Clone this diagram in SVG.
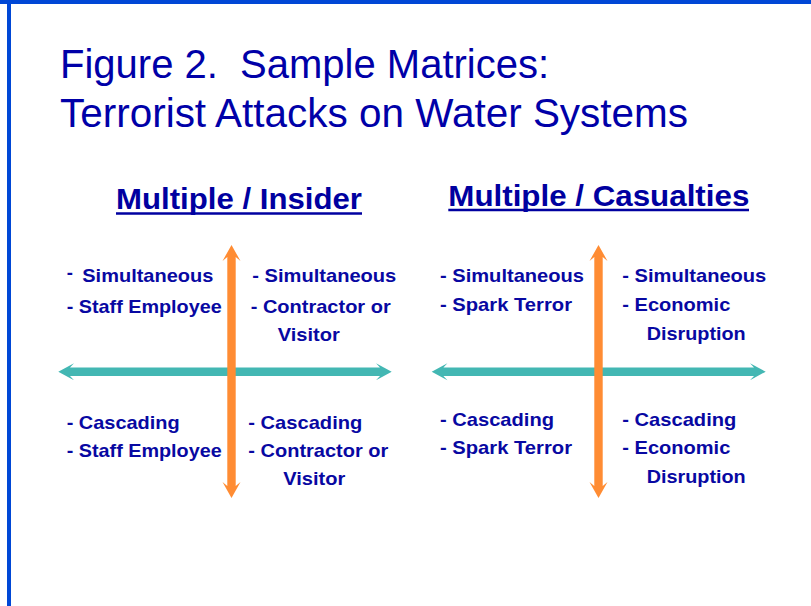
<svg xmlns="http://www.w3.org/2000/svg" width="811" height="606" viewBox="0 0 811 606">
<style>
.title{font-family:"Liberation Sans",Arial,sans-serif;font-size:40px;fill:#0000A8;white-space:pre}
.head{font-family:"Liberation Sans",Arial,sans-serif;font-size:30px;font-weight:bold;fill:#0000A0}
.ul{stroke:#0000A0;stroke-width:2.5}
.t{font-family:"Liberation Sans",Arial,sans-serif;font-size:18.5px;font-weight:bold;fill:#0808A2}
.h{fill:#43B7B3}
.v{fill:#FF8C33}
.frame{fill:#0047D6}
</style>
<rect class="frame" x="0" y="0" width="811" height="4"/>
<rect class="frame" x="7" y="0" width="4" height="606"/>
<g id="title">
<text class="title" x="60" y="78" xml:space="preserve">Figure 2.  Sample Matrices:</text>
<text class="title" x="60" y="127" textLength="628" lengthAdjust="spacingAndGlyphs">Terrorist Attacks on Water Systems</text>
</g>
<g id="header-insider">
<text class="head" x="116" y="209.3" textLength="246" lengthAdjust="spacingAndGlyphs">Multiple / Insider</text>
<line class="ul" x1="116" y1="213.5" x2="362" y2="213.5"/>
</g>
<g id="header-casualties">
<text class="head" x="448.3" y="206" textLength="301" lengthAdjust="spacingAndGlyphs">Multiple / Casualties</text>
<line class="ul" x1="448.3" y1="210" x2="749" y2="210"/>
</g>
<g id="connectors">
<polygon class="h" points="58.3,371.7 74,363.2 70,367.4 380,367.4 376,363.2 391.7,371.7 376,380.2 380,376 70,376 74,380.2"/>
<polygon class="v" points="231.5,245 240.5,261 235.7,257 235.7,486 240.5,482 231.5,498 222.5,482 227.3,486 227.3,257 222.5,261"/>
<polygon class="h" points="431.7,371.7 447.4,363.2 443.4,367.4 754,367.4 750,363.2 765.7,371.7 750,380.2 754,376 443.4,376 447.4,380.2"/>
<polygon class="v" points="598.5,245 607.5,261 602.7,257 602.7,486 607.5,482 598.5,498 589.5,482 594.3,486 594.3,257 589.5,261"/>
</g>
<g id="insider-top-left">
<text class="t" x="66.7" y="279">-</text>
<text class="t" x="82.3" y="281.7" textLength="131" lengthAdjust="spacingAndGlyphs">Simultaneous</text>
<text class="t" x="66.7" y="312.7" textLength="155" lengthAdjust="spacingAndGlyphs">- Staff Employee</text>
</g>
<g id="insider-top-right">
<text class="t" x="252.3" y="281.7" textLength="144" lengthAdjust="spacingAndGlyphs">- Simultaneous</text>
<text class="t" x="250.7" y="312.7" textLength="140" lengthAdjust="spacingAndGlyphs">- Contractor or</text>
<text class="t" x="277.7" y="341" textLength="62" lengthAdjust="spacingAndGlyphs">Visitor</text>
</g>
<g id="insider-bottom-left">
<text class="t" x="66.7" y="429.3" textLength="113" lengthAdjust="spacingAndGlyphs">- Cascading</text>
<text class="t" x="66.7" y="456.7" textLength="155" lengthAdjust="spacingAndGlyphs">- Staff Employee</text>
</g>
<g id="insider-bottom-right">
<text class="t" x="248.3" y="429.3" textLength="114" lengthAdjust="spacingAndGlyphs">- Cascading</text>
<text class="t" x="248.3" y="456.7" textLength="140" lengthAdjust="spacingAndGlyphs">- Contractor or</text>
<text class="t" x="283.3" y="485" textLength="62" lengthAdjust="spacingAndGlyphs">Visitor</text>
</g>
<g id="casualties-top-left">
<text class="t" x="440" y="281.7" textLength="144" lengthAdjust="spacingAndGlyphs">- Simultaneous</text>
<text class="t" x="440" y="310.7" textLength="132" lengthAdjust="spacingAndGlyphs">- Spark Terror</text>
</g>
<g id="casualties-top-right">
<text class="t" x="622.3" y="281.7" textLength="144" lengthAdjust="spacingAndGlyphs">- Simultaneous</text>
<text class="t" x="622.3" y="310.7" textLength="108" lengthAdjust="spacingAndGlyphs">- Economic</text>
<text class="t" x="646.7" y="340" textLength="99" lengthAdjust="spacingAndGlyphs">Disruption</text>
</g>
<g id="casualties-bottom-left">
<text class="t" x="440" y="426" textLength="114" lengthAdjust="spacingAndGlyphs">- Cascading</text>
<text class="t" x="440" y="454" textLength="132" lengthAdjust="spacingAndGlyphs">- Spark Terror</text>
</g>
<g id="casualties-bottom-right">
<text class="t" x="622.3" y="426" textLength="114" lengthAdjust="spacingAndGlyphs">- Cascading</text>
<text class="t" x="622.3" y="454" textLength="108" lengthAdjust="spacingAndGlyphs">- Economic</text>
<text class="t" x="646.7" y="483.3" textLength="99" lengthAdjust="spacingAndGlyphs">Disruption</text>
</g>
</svg>
